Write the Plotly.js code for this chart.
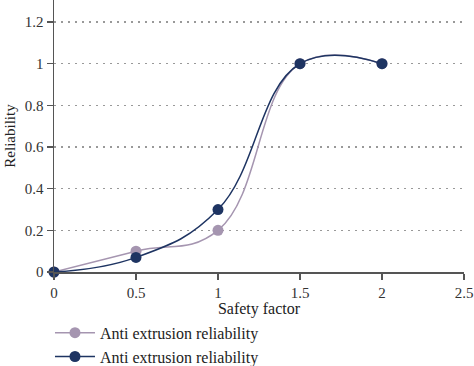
<!DOCTYPE html>
<html><head><meta charset="utf-8">
<script src="https://cdn.plot.ly/plotly-3.0.1.min.js"></script>
<style>html,body{margin:0;padding:0;background:#fff}#c{width:474px;height:366px}</style>
</head><body><div id="c"></div>
<script>
const safetyFactor = [0, 0.5, 1, 1.5, 2];
const seriesA = [0, 0.1, 0.2, 1, 1];
const seriesB = [0, 0.07, 0.3, 1, 1];
const seriesNames = ['Anti extrusion reliability', 'Anti extrusion reliability'];
const xTicks = [0, 0.5, 1, 1.5, 2, 2.5];
const yTicks = [0, 0.2, 0.4, 0.6, 0.8, 1, 1.2];

const font = 'Liberation Serif, DejaVu Serif, serif';
const traces = [
  {x: safetyFactor, y: seriesA, name: seriesNames[0], mode: 'lines+markers', cliponaxis: false,
   line: {shape: 'spline', smoothing: 1.2, color: '#a595b0', width: 1.5},
   marker: {size: 11, color: '#a595b0'}},
  {x: safetyFactor, y: seriesB, name: seriesNames[1], mode: 'lines+markers', cliponaxis: false,
   line: {shape: 'spline', smoothing: 1.2, color: '#1e3462', width: 1.5},
   marker: {size: 11, color: '#1e3462'}}
];
const layout = {
  width: 474, height: 366,
  margin: {l: 54, r: 10, t: 0, b: 94, autoexpand: false},
  paper_bgcolor: '#fff', plot_bgcolor: '#fff',
  font: {family: font, size: 15, color: '#333'},
  showlegend: true,
  legend: {x: -0.0098, xanchor: 'left', y: -0.161, yanchor: 'top', orientation: 'v',
    font: {family: font, size: 16, color: '#222'}, tracegroupgap: 0, itemwidth: 40},
  xaxis: {range: [0, 2.5], tickvals: xTicks, ticktext: xTicks.map(String),
    showgrid: false, zeroline: false, showline: true, linecolor: '#555', linewidth: 1.5,
    ticks: 'outside', ticklen: 6, tickcolor: '#555', tickwidth: 1.5,
    tickfont: {family: font, size: 15, color: '#333'},
    title: {text: 'Safety factor', font: {family: font, size: 16, color: '#222'}, standoff: 0}},
  yaxis: {range: [0, 1.306], tickvals: yTicks, ticktext: yTicks.map(String),
    showgrid: true, gridcolor: '#999', gridwidth: 1.5, griddash: '1.5px,5.5px',
    zeroline: false, showline: true, linecolor: '#555', linewidth: 1.5,
    ticks: 'outside', ticklen: 6, tickcolor: '#555', tickwidth: 1.5,
    tickfont: {family: font, size: 15, color: '#333'},
    title: {text: 'Reliability', font: {family: font, size: 15, color: '#222'}, standoff: 5}}
};
Plotly.newPlot('c', traces, layout, {staticPlot: true});
</script></body></html>
